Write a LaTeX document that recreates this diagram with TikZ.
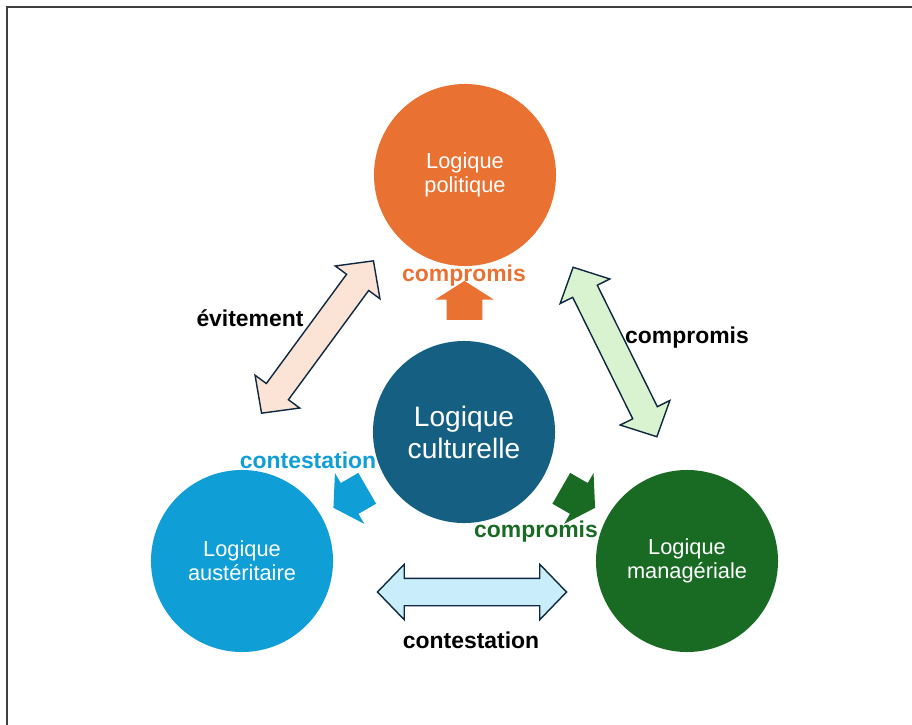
\documentclass[tikz,border=0pt]{standalone}
\usepackage{fontspec}
\setmainfont{Liberation Sans}
\usetikzlibrary{positioning,calc,shapes.arrows}
\definecolor{polcol}{HTML}{E97132}
\definecolor{culcol}{HTML}{156082}
\definecolor{auscol}{HTML}{0F9ED5}
\definecolor{mancol}{HTML}{196B24}
\definecolor{edgecol}{HTML}{0E2841}
\definecolor{peach}{HTML}{FBE3D6}
\definecolor{mint}{HTML}{D9F2D0}
\definecolor{sky}{HTML}{CAEDFB}
\tikzset{
logic/.style={circle,minimum size=4.55cm,inner sep=0mm,align=center,text=white,
  font=\fontsize{15.5}{17}\selectfont},
big/.style={font=\fontsize{20}{22.8}\selectfont},
lbl/.style={font=\fontsize{16.3}{19}\selectfont\bfseries,inner sep=0mm},
dbl/.style={double arrow,draw=edgecol,line width=1pt,inner xsep=0mm,inner ysep=0.325cm,
  minimum height=4.725cm,
  double arrow head extend=0.35cm,double arrow tip angle=92},
sgl/.style={single arrow,inner xsep=0mm,inner ysep=0.4375cm,minimum height=0.975cm,
  single arrow head extend=0.29cm,single arrow tip angle=115},
frame/.style={draw=black!75,line width=1.1pt},
}
\begin{document}
\begin{tikzpicture}[x=0.025cm,y=-0.025cm]
	\useasboundingbox (0,0) rectangle (912,724);
	\draw[frame] (7,7) rectangle (960,780);

	\node[logic,fill=polcol] (pol) at (465,175) {Logique\\politique};
	\node[logic,fill=culcol,big] (cul) at (464,432) {Logique\\culturelle};
	\node[logic,fill=auscol] (aus) at (242,561) {Logique\\austéritaire};
	\node[logic,fill=mancol] (man) at (687,561) {Logique\\managériale};

	% fleches du centre
	\node[sgl,fill=polcol,rotate=90] (upol) at ($(cul)!0.49!(pol)$) {};
	\node[sgl,fill=auscol,rotate=210] (uaus) at ($(cul)!0.49!(aus)$) {};
	\node[sgl,fill=mancol,rotate=-30] (uman) at ($(cul)!0.49!(man)$) {};

	% doubles fleches
	\node[dbl,fill=peach,rotate=53.7] (polaus) at ($(pol)!0.5!(aus)+(-36,-31)$) {};
	\node[dbl,fill=mint,rotate=-63.7] (polman) at ($(pol)!0.5!(man)+(39,-16)$) {};
	\node[dbl,fill=sky] (ausman) at ($(aus)!0.5!(man)+(7.5,31)$) {};

	\node[lbl,text=polcol] (lupol) at (464,276) {compromis};
	\node[lbl,text=auscol] (luaus) at (308,460) {contestation};
	\node[lbl,text=mancol] (luman) at (536,532) {compromis};
	\node[lbl] (lpolaus) at (250,318) {évitement};
	\node[lbl] (lpolman) at (687,338) {compromis};
	\node[lbl] (lausman) at (471,640) {contestation};
\end{tikzpicture}
\end{document}
